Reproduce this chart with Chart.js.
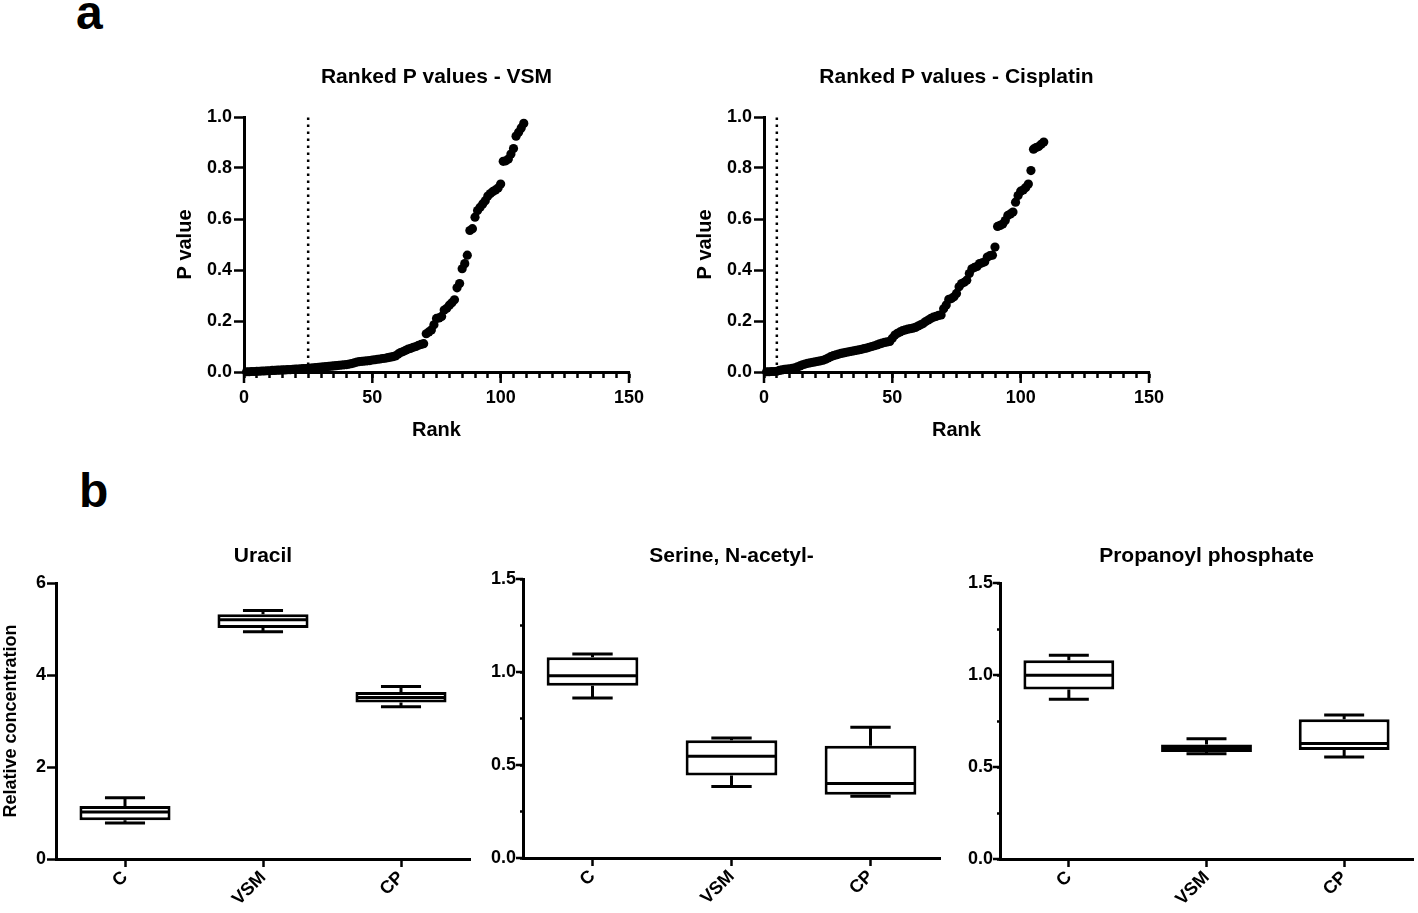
<!DOCTYPE html>
<html>
<head>
<meta charset="utf-8">
<script src="https://cdn.jsdelivr.net/npm/chart.js@4.4.1/dist/chart.umd.min.js"></script>
<style>
  html, body { margin: 0; padding: 0; background: #fff; }
  body { width: 1418px; height: 913px; position: relative; overflow: hidden;
         font-family: "Liberation Sans", Arial, sans-serif; }
  canvas { position: absolute; }
  .panel { position: absolute; font-weight: bold; font-size: 48px; line-height: 48px; color: #000; }
</style>
</head>
<body>
<div class="panel" style="left:76px; top:-11px;">a</div>
<div class="panel" style="left:79px; top:467px;">b</div>

<canvas id="c-vsm"  width="520" height="400" style="left:150px; top:50px;"></canvas>
<canvas id="c-cis"  width="520" height="400" style="left:670px; top:50px;"></canvas>
<canvas id="c-ura"  width="475" height="388" style="left:0px;   top:525px;"></canvas>
<canvas id="c-ser"  width="475" height="388" style="left:480px; top:525px;"></canvas>
<canvas id="c-prop" width="463" height="388" style="left:955px; top:525px;"></canvas>

<script>
// Панель a: ранжовані P-значення (109 метаболітів).
const pVSM = [
  0.001, 0.001, 0.002, 0.002, 0.003, 0.003, 0.004, 0.004, 0.005, 0.005,
  0.006, 0.006, 0.007, 0.007, 0.008, 0.008, 0.009, 0.009, 0.010, 0.011,
  0.011, 0.012, 0.013, 0.013, 0.014, 0.015, 0.016, 0.017, 0.018, 0.019,
  0.020, 0.021, 0.022, 0.023, 0.024, 0.025, 0.026, 0.027, 0.028, 0.029,
  0.031, 0.033, 0.036, 0.039, 0.041, 0.042, 0.043, 0.044, 0.045, 0.047,
  0.048, 0.050, 0.051, 0.053, 0.054, 0.056, 0.058, 0.060, 0.063, 0.070,
  0.076, 0.080, 0.085, 0.090, 0.093, 0.097, 0.100, 0.105, 0.108, 0.111,
  0.150, 0.157, 0.165, 0.185, 0.210, 0.212, 0.218, 0.243, 0.250, 0.262,
  0.272, 0.283, 0.330, 0.347, 0.405, 0.425, 0.458, 0.555, 0.562, 0.607,
  0.633, 0.646, 0.659, 0.672, 0.690, 0.700, 0.708, 0.714, 0.722, 0.737,
  0.826, 0.828, 0.835, 0.855, 0.876, 0.925, 0.940, 0.957, 0.975,
];
const pCis = [
  0.001, 0.001, 0.002, 0.002, 0.003, 0.006, 0.008, 0.010, 0.011, 0.012,
  0.014, 0.016, 0.020, 0.024, 0.028, 0.031, 0.034, 0.036, 0.038, 0.040,
  0.042, 0.044, 0.046, 0.050, 0.055, 0.060, 0.064, 0.067, 0.070, 0.073,
  0.075, 0.077, 0.079, 0.081, 0.083, 0.085, 0.087, 0.089, 0.092, 0.094,
  0.097, 0.100, 0.103, 0.106, 0.110, 0.113, 0.116, 0.118, 0.120, 0.132,
  0.145, 0.152, 0.157, 0.162, 0.165, 0.168, 0.170, 0.172, 0.175, 0.180,
  0.185, 0.190, 0.198, 0.204, 0.210, 0.215, 0.218, 0.222, 0.224, 0.248,
  0.263, 0.285, 0.288, 0.295, 0.308, 0.334, 0.347, 0.352, 0.360, 0.386,
  0.405, 0.410, 0.414, 0.425, 0.428, 0.432, 0.451, 0.456, 0.458, 0.490,
  0.571, 0.575, 0.580, 0.594, 0.614, 0.620, 0.627, 0.666, 0.692, 0.709,
  0.714, 0.724, 0.737, 0.790, 0.874, 0.880, 0.884, 0.893, 0.902,
];
const cutVSM = 25;     // пунктирна межа (ранг)
const cutCis = 5;
const rankMajor = [0, 50, 100, 150];

// Панель b: бокс-плоти (мін, Q1, медіана, Q3, макс) по групах.
const groups = ["C", "VSM", "CP"];
const uraMin = [0.78, 4.94, 3.31];
const uraQ1  = [0.84, 5.02, 3.40];
const uraMed = [1.02, 5.20, 3.51];
const uraQ3  = [1.15, 5.32, 3.63];
const uraMax = [1.33, 5.40, 3.75];

const serMin = [0.860, 0.385, 0.332];
const serQ1  = [0.926, 0.443, 0.340];
const serMed = [0.980, 0.547, 0.400];
const serQ3  = [1.079, 0.633, 0.604];
const serMax = [1.097, 0.645, 0.703];

const propMin = [0.868, 0.572, 0.554];
const propQ1  = [0.921, 0.581, 0.593];
const propMed = [0.999, 0.601, 0.628];
const propQ3  = [1.080, 0.622, 0.760];
const propMax = [1.107, 0.653, 0.782];

const concMajor = [0, 0.5, 1.0, 1.5];

const FONT = "'Liberation Sans', Arial, sans-serif";
const INK = "#000";
Chart.defaults.font.family = FONT;
Chart.defaults.color = INK;

// Довгі мітки на основних поділках (Chart.js малює всі мітки однакової довжини).
const majorTicksPlugin = {
  id: "majorTicks",
  afterDraw(chart, args, opts) {
    const { ctx, chartArea: a, scales } = chart;
    ctx.save();
    ctx.strokeStyle = INK;
    ctx.lineWidth = 2.5;
    ctx.beginPath();
    for (const v of opts.x || []) {
      const px = scales.x.getPixelForValue(v);
      ctx.moveTo(px, a.bottom);
      ctx.lineTo(px, a.bottom + opts.xLen);
    }
    for (const v of opts.y || []) {
      const py = scales.y.getPixelForValue(v);
      ctx.moveTo(a.left, py);
      ctx.lineTo(a.left - opts.yLen, py);
    }
    ctx.stroke();
    ctx.restore();
  },
};

// Медіана та вуса поверх коробок (плаваючих барів).
const whiskerPlugin = {
  id: "whiskers",
  afterDatasetsDraw(chart, args, o) {
    if (!o.med) return;
    const { ctx } = chart;
    const y = chart.scales.y;
    const meta = chart.getDatasetMeta(0);
    ctx.save();
    ctx.strokeStyle = INK;
    ctx.lineWidth = 3;
    ctx.lineCap = "butt";
    meta.data.forEach((bar, i) => {
      const half = bar.width / 2 - 1.5;
      const cap = bar.width * 0.22;
      const yMed = y.getPixelForValue(o.med[i]);
      const yQ1 = y.getPixelForValue(o.q1[i]);
      const yQ3 = y.getPixelForValue(o.q3[i]);
      const yMin = y.getPixelForValue(o.min[i]);
      const yMax = y.getPixelForValue(o.max[i]);
      ctx.beginPath();
      ctx.moveTo(bar.x - half, yMed); ctx.lineTo(bar.x + half, yMed);
      ctx.moveTo(bar.x, yQ3); ctx.lineTo(bar.x, yMax);
      ctx.moveTo(bar.x - cap, yMax); ctx.lineTo(bar.x + cap, yMax);
      ctx.moveTo(bar.x, yQ1); ctx.lineTo(bar.x, yMin);
      ctx.moveTo(bar.x - cap, yMin); ctx.lineTo(bar.x + cap, yMin);
      ctx.stroke();
    });
    ctx.restore();
  },
};

const axisBase = {
  border: { display: true, color: INK, width: 3 },
  grid: { display: true, drawOnChartArea: false, drawTicks: true, tickColor: INK, tickWidth: 2.5 },
};

function rankChart(id, values, cut, title, yW, xH, padRight) {
  const pts = values.map((v, i) => ({ x: i + 1, y: v }));
  return new Chart(document.getElementById(id), {
    type: "scatter",
    data: {
      datasets: [
        { data: pts, pointRadius: 4.6, pointHoverRadius: 4.6, borderWidth: 0,
          backgroundColor: INK, clip: false, order: 0 },
        { type: "line", data: [{ x: cut, y: 0 }, { x: cut, y: 1 }],
          borderColor: INK, borderWidth: 2.5, borderDash: [2.5, 4.5], pointRadius: 0,
          order: 1 },
      ],
    },
    options: {
      responsive: false,
      animation: false,
      layout: { padding: { left: 0, right: padRight, top: 0, bottom: 0 } },
      plugins: {
        legend: { display: false },
        tooltip: { enabled: false },
        title: { display: true, text: title, fullSize: false, color: INK,
                 font: { size: 21, weight: "bold" }, padding: { top: 14.4, bottom: 27.4 } },
        majorTicks: { x: rankMajor, xLen: 11 },
      },
      scales: {
        x: { ...axisBase, type: "linear", min: 0, max: 150,
             grid: { ...axisBase.grid, tickLength: 6 },
             ticks: { stepSize: 5, autoSkip: false, maxRotation: 0, padding: 9, color: INK,
                      font: { size: 18, weight: "bold" },
                      callback: v => (rankMajor.includes(v) ? String(v) : "") },
             title: { display: true, text: "Rank", color: INK,
                      font: { size: 20, weight: "bold" }, padding: { top: 0, bottom: 8 } },
             afterFit: s => { s.height = xH; } },
        y: { ...axisBase, min: 0, max: 1,
             grid: { ...axisBase.grid, tickLength: 10 },
             ticks: { stepSize: 0.2, padding: 2, color: INK,
                      font: { size: 18, weight: "bold" }, callback: v => v.toFixed(1) },
             title: { display: true, text: "P value", color: INK,
                      font: { size: 20, weight: "bold" }, padding: { top: 23, bottom: 0 } },
             afterFit: s => { s.width = yW; } },
      },
    },
    plugins: [majorTicksPlugin],
  });
}

function boxChart(id, box, title, y, layout) {
  return new Chart(document.getElementById(id), {
    type: "bar",
    data: {
      labels: groups,
      datasets: [{
        data: groups.map((_, i) => [box.q1[i], box.q3[i]]),
        backgroundColor: "#fff", borderColor: INK, borderWidth: 3, borderSkipped: false,
        barPercentage: 0.66, categoryPercentage: 1,
      }],
    },
    options: {
      responsive: false,
      animation: false,
      layout: { padding: { left: 0, right: layout.padRight, top: 0, bottom: 0 } },
      plugins: {
        legend: { display: false },
        tooltip: { enabled: false },
        title: { display: true, text: title, fullSize: false, color: INK,
                 font: { size: 21, weight: "bold" },
                 padding: { top: 18.4, bottom: layout.titleBottom } },
        whiskers: box,
        majorTicks: { y: y.major || [], yLen: 7 },
      },
      scales: {
        x: { ...axisBase, offset: true,
             grid: { ...axisBase.grid, offset: false, tickLength: 8 },
             ticks: { minRotation: 45, maxRotation: 45, padding: 0, color: INK,
                      font: { size: 18, weight: "bold" } },
             afterFit: s => { s.height = layout.xH; } },
        y: { ...axisBase, min: 0, max: y.max,
             grid: { ...axisBase.grid, tickLength: y.tickLen },
             ticks: { stepSize: y.step, padding: y.pad, color: INK, autoSkip: false,
                      font: { size: 18, weight: "bold" }, callback: y.fmt },
             title: { display: !!y.title, text: y.title || "", color: INK,
                      font: { size: 18, weight: "bold" }, padding: { top: 0, bottom: 0 } },
             afterFit: s => { s.width = layout.yW; } },
      },
    },
    plugins: [whiskerPlugin, majorTicksPlugin],
  });
}

const halfLabel = v => (Math.abs(v * 2 - Math.round(v * 2)) < 1e-6 ? v.toFixed(1) : "");

rankChart("c-vsm", pVSM, cutVSM, "Ranked P values - VSM", 94, 78, 41);
rankChart("c-cis", pCis, cutCis, "Ranked P values - Cisplatin", 94, 78, 41);

boxChart("c-ura",
  { min: uraMin, q1: uraQ1, med: uraMed, q3: uraQ3, max: uraMax }, "Uracil",
  { max: 6, step: 2, tickLen: 9, pad: 1, fmt: v => String(v), title: "Relative concentration" },
  { yW: 56, xH: 54, padRight: 5, titleBottom: 14.4 });

boxChart("c-ser",
  { min: serMin, q1: serQ1, med: serMed, q3: serQ3, max: serMax }, "Serine, N-acetyl-",
  { max: 1.5, step: 0.25, tickLen: 3, pad: 4, fmt: halfLabel, major: concMajor },
  { yW: 43, xH: 55, padRight: 15, titleBottom: 10.4 });

boxChart("c-prop",
  { min: propMin, q1: propQ1, med: propMed, q3: propQ3, max: propMax }, "Propanoyl phosphate",
  { max: 1.5, step: 0.25, tickLen: 3, pad: 4, fmt: halfLabel, major: concMajor },
  { yW: 45, xH: 54, padRight: 5, titleBottom: 14.4 });
</script>
</body>
</html>
